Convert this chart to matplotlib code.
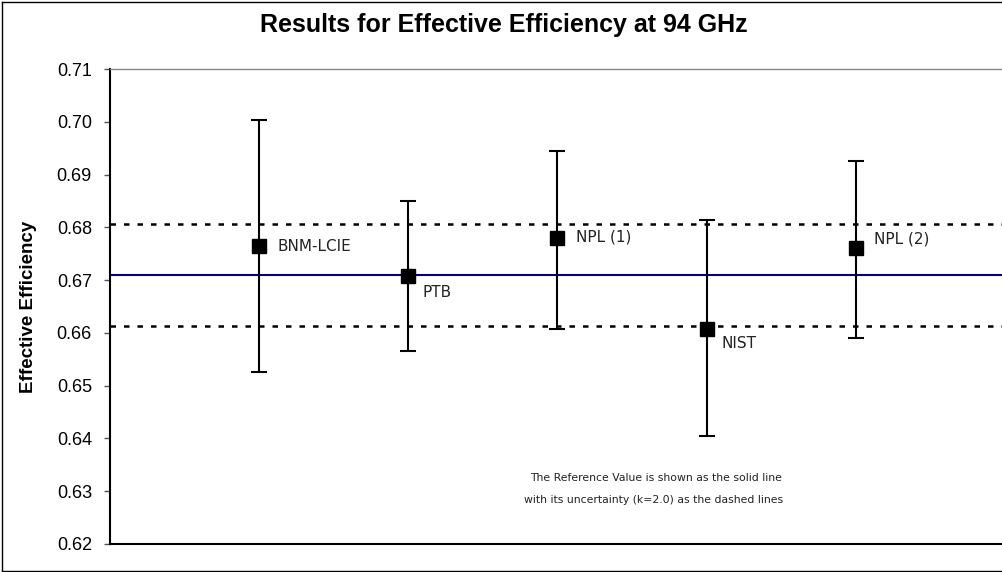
import numpy as np
import matplotlib
matplotlib.use("Agg")
import matplotlib.pyplot as plt
from matplotlib.lines import Line2D

# labs and results
labs = ["BNM-LCIE", "PTB", "NPL (1)", "NIST", "NPL (2)"]
values = [0.6764, 0.6707, 0.6779, 0.6607, 0.6760]
upper = [0.7003, 0.6850, 0.6945, 0.6813, 0.6926]
lower = [0.6525, 0.6565, 0.6608, 0.6404, 0.6590]

ref_value = 0.6710
ref_upper = 0.6807
ref_lower = 0.6613

yticks = [0.62, 0.63, 0.64, 0.65, 0.66, 0.67, 0.68, 0.69, 0.70, 0.71]

# label offsets in pixels (dx, dy)
label_offsets = [(18, 0), (14, -16), (19, 1), (15, -14), (18, 9)]

W, H = 1003, 572
fig = plt.figure(figsize=(W / 100, H / 100), dpi=100)
ax = fig.add_axes([110 / W, 28 / H, 895 / W, 475 / H])

x = np.arange(1, len(labs) + 1)
vals = np.array(values)
yerr = np.vstack([vals - np.array(lower), np.array(upper) - vals])

# reference value and its uncertainty
ax.axhline(ref_value, color="#000080", lw=1.5, zorder=1)
for yy in (ref_upper, ref_lower):
    ax.axhline(yy, color="black", lw=1.8, dashes=(2.2, 3.2), zorder=1)

ax.errorbar(x, vals, yerr=yerr, fmt="s", color="black", ms=9.5,
            ecolor="black", elinewidth=1.5, capsize=5.8, capthick=1.5, zorder=3)

for xi, vi, lab, (dx, dy) in zip(x, vals, labs, label_offsets):
    ax.annotate(lab, (xi, vi), xytext=(dx, dy), textcoords="offset pixels",
                ha="left", va="center", fontsize=11, family="DejaVu Sans",
                color="#222222")

ax.set_xlim(0, 6)
ax.set_ylim(0.62, 0.71)
ax.set_yticks(yticks)
ax.set_yticklabels([f"{t:.2f}" for t in yticks], family="Liberation Sans", fontsize=13)
ax.set_xticks([])
ax.tick_params(axis="y", direction="out", length=4, width=1, color="#555555", pad=9)

ax.spines["right"].set_visible(False)
ax.spines["top"].set_color("#888888")
ax.spines["top"].set_linewidth(1)
ax.spines["left"].set_linewidth(1.5)
ax.spines["bottom"].set_linewidth(1.5)

ax.set_ylabel("Effective Efficiency", family="Liberation Sans", fontweight="bold",
              fontsize=13.5, labelpad=14)

fig.text(504 / W, 1 - 25 / H, "Results for Effective Efficiency at 94 GHz",
         ha="center", va="center", family="Liberation Sans", fontweight="bold",
         fontsize=18)

fig.text(656 / W, 1 - 478 / H, "The Reference Value is shown as the solid line",
         ha="center", va="center", family="DejaVu Sans", fontsize=7.8, color="#222222")
fig.text(654 / W, 1 - 500 / H, "with its uncertainty (k=2.0) as the dashed lines",
         ha="center", va="center", family="DejaVu Sans", fontsize=7.8, color="#222222")

# outer chart border (right edge falls outside the picture)
for xs, ys in [((2.5 / W, 2.5 / W), (1.5 / H, 1 - 1.5 / H)),
               ((2.5 / W, 1.0), (1 - 1.5 / H, 1 - 1.5 / H)),
               ((2.5 / W, 1.0), (1.5 / H, 1.5 / H))]:
    fig.add_artist(Line2D(xs, ys, transform=fig.transFigure, color="black", lw=1))

fig.savefig("out.png", dpi=100)
